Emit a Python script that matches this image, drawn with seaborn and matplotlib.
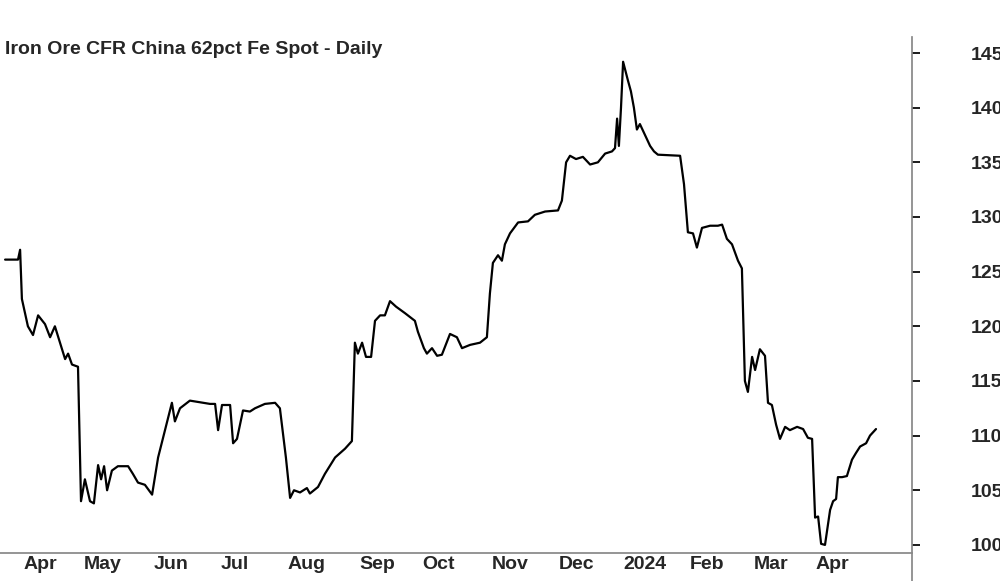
import matplotlib
matplotlib.use("Agg")
import matplotlib.pyplot as plt
import seaborn as sns
import pandas as pd

title = "Iron Ore CFR China 62pct Fe Spot - Daily"
month_labels = ["Apr","May","Jun","Jul","Aug","Sep","Oct","Nov","Dec","2024","Feb","Mar","Apr"]
month_ticks = [0,20,43.3,65.7,87.7,111.7,132.7,156,178.3,199.7,222,243.3,264]
yticks = [100,105,110,115,120,125,130,135,140,145]

day = [-6.3,-2,-1.3,-0.7,1.3,3,4.7,7,8.7,10.3,12,13.7,14.7,16,18,19,20.3,22,23.3,24.7,25.7,26.7,27.7,29.3,31.3,34.7,36.3,38,40.3,42.7,44.7,47,49.3,50.3,52,55.3,62,63.7,64.7,66,68.7,69.7,71,73,75.3,77,80.3,83.7,85.3,87.3,88.7,90,92,94.3,95.3,98,100.3,103.7,107,109.3,110.3,111.3,112.7,114,115.7,117,118.7,120.3,122,124,127,130.3,131.3,133.3,134.3,136,137.7,139.3,142,144.3,146,148.7,152,154.3,155.3,156.3,158,159.3,160.3,162,164.7,168,170.3,173.7,178,179.3,180.7,182,184,186.3,188.7,191.3,193.7,196,197,197.7,198.3,199,199.7,201.3,202.3,203.3,204.3,205.3,207,208.7,210,211.3,218.7,220,221.3,223,224.3,226,228.7,231.3,232.7,234.3,236,238,239.3,240.3,241.3,242.7,243.7,245.3,247,248,249.3,250.7,252,253.7,255.3,257.7,259.7,261.3,262.7,263.7,264.7,265.7,267,268.7,269.7,270.7,271.3,272.7,274.3,276,277.3,278.7,280.7,282,284]
price = [126.1,126.1,127,122.5,120,119.2,121,120.2,119,120,118.5,117,117.5,116.5,116.3,104,106,104,103.8,107.3,106,107.2,105,106.8,107.2,107.2,106.5,105.7,105.5,104.6,108,110.5,113,111.3,112.5,113.2,112.9,112.9,110.5,112.8,112.8,109.3,109.7,112.3,112.2,112.5,112.9,113,112.5,108,104.3,105,104.8,105.2,104.7,105.3,106.5,108,108.8,109.5,118.5,117.5,118.5,117.2,117.2,120.5,121,121,122.3,121.8,121.2,120.5,119.5,118,117.5,118,117.3,117.4,119.3,119,118,118.3,118.5,119,123,125.8,126.5,126,127.5,128.5,129.5,129.6,130.2,130.5,130.6,131.5,135,135.6,135.3,135.5,134.8,135,135.8,136,136.3,139,136.5,140,144.2,142.5,141.5,140,138,138.5,137.5,136.5,136,135.7,135.6,133,128.6,128.5,127.2,129,129.2,129.2,129.3,128,127.5,126,125.3,115,114,117.2,116,117.9,117.3,113,112.8,111,109.7,110.8,110.5,110.8,110.6,109.8,109.7,102.5,102.6,100.1,100,103.2,104,104.2,106.2,106.2,106.3,107.8,108.4,109,109.3,110,110.6]

df = pd.DataFrame({"day": day, "price": price})

sns.set_theme(style="white")
plt.rcParams["font.family"] = ["Liberation Sans", "DejaVu Sans"]
fig = plt.figure(figsize=(10, 5.81), dpi=100)
ax = fig.add_axes([0, 0.048, 0.912, 0.952])
sns.lineplot(data=df, x="day", y="price", ax=ax, color="black", linewidth=1.6, sort=False)
ax.set_xlim(-8, 296)
ax.set_ylim(99.25, 149.85)
ax.yaxis.tick_right()
ax.set_yticks(yticks)
ax.set_yticklabels([str(v) for v in yticks], fontsize=14, fontweight="bold")
ax.tick_params(axis="y", direction="out", length=6, pad=36, color="black")
ax.set_xticks(month_ticks)
ax.set_xticklabels(month_labels, fontsize=14, fontweight="bold", ha="left")
ax.tick_params(axis="x", direction="in", length=6, pad=2, color="#888888")
ax.set_xlabel("")
ax.set_ylabel("")
for s in ["top", "left"]:
    ax.spines[s].set_visible(False)
ax.spines["right"].set_color("#888888")
ax.spines["bottom"].set_color("#888888")
ax.spines["right"].set_bounds(99.25 - 3, 146.5)
ax.text(0.006, 0.91, title, transform=ax.transAxes, fontsize=14, fontweight="bold", va="center", ha="left")
fig.savefig("out.png", dpi=100)
